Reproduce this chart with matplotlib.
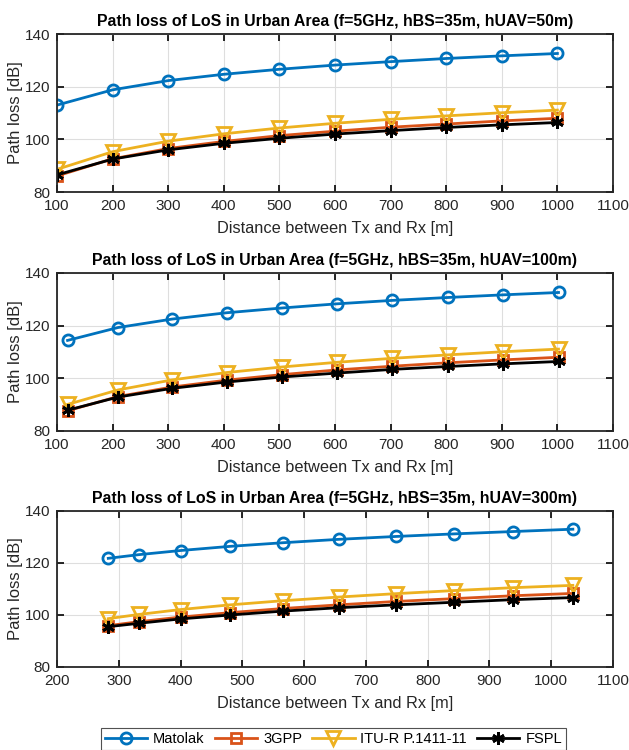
import matplotlib.pyplot as plt
from matplotlib.lines import Line2D

# distances on the x axis for the three UAV heights
dist50 = [100, 200, 300, 400, 500, 600, 700, 800, 900, 1000]
dist100 = [119, 210, 307, 405, 504, 604, 703, 803, 902, 1002]
dist300 = [283, 332, 400, 480, 566, 656, 748, 843, 938, 1035]

# hUAV = 50 m
matolak50 = [113.0, 118.8, 122.3, 124.7, 126.6, 128.2, 129.5, 130.7, 131.7, 132.6]
gpp50 = [86.1, 92.6, 96.5, 99.2, 101.4, 103.1, 104.6, 105.8, 107.0, 108.0]
itu50 = [88.6, 95.3, 99.3, 102.1, 104.3, 106.1, 107.6, 108.9, 110.1, 111.1]
fspl50 = [86.5, 92.5, 96.0, 98.5, 100.4, 102.0, 103.3, 104.5, 105.5, 106.4]

# hUAV = 100 m
matolak100 = [114.4, 119.3, 122.5, 124.9, 126.7, 128.3, 129.6, 130.7, 131.7, 132.6]
gpp100 = [87.7, 93.1, 96.7, 99.3, 101.4, 103.2, 104.6, 105.9, 107.0, 108.0]
itu100 = [90.1, 95.6, 99.4, 102.2, 104.3, 106.1, 107.6, 108.9, 110.1, 111.1]
fspl100 = [87.9, 92.9, 96.2, 98.6, 100.5, 102.0, 103.4, 104.5, 105.5, 106.4]

# hUAV = 300 m
matolak300 = [121.8, 123.2, 124.8, 126.4, 127.8, 129.1, 130.2, 131.2, 132.1, 133.0]
gpp300 = [95.9, 97.4, 99.2, 100.9, 102.5, 103.9, 105.2, 106.3, 107.4, 108.3]
itu300 = [98.6, 100.2, 102.1, 103.9, 105.5, 106.9, 108.2, 109.4, 110.5, 111.4]
fspl300 = [95.5, 96.8, 98.5, 100.0, 101.5, 102.8, 103.9, 104.9, 105.9, 106.7]

hUAV = ['50m', '100m', '300m']
names = ['Matolak', '3GPP', 'ITU-R P.1411-11', 'FSPL']
couleurs = ['#0072BD', '#D95319', '#EDB120', '#000000']
marqueurs = ['o', 's', 'v', (6, 2, 0)]
tailles = [8, 7, 10, 9]

donnees = [
    (dist50, [matolak50, gpp50, itu50, fspl50]),
    (dist100, [matolak100, gpp100, itu100, fspl100]),
    (dist300, [matolak300, gpp300, itu300, fspl300]),
]

plt.rcParams['font.family'] = ['Liberation Sans', 'DejaVu Sans']

fig = plt.figure(figsize=(6.29, 7.5), dpi=100)

positions = [
    [57/629, 1-192/750, 556/629, 158/750],
    [57/629, 1-431/750, 556/629, 158/750],
    [57/629, 1-667/750, 556/629, 156/750],
]
xlims = [(100, 1100), (100, 1100), (200, 1100)]

for k, (x, series) in enumerate(donnees):
    ax = fig.add_axes(positions[k])
    for i, y in enumerate(series):
        ax.plot(x, y, color=couleurs[i], marker=marqueurs[i], markersize=tailles[i],
                markerfacecolor='none', markeredgewidth=2, linewidth=2, label=names[i])
    ax.set_xlim(*xlims[k])
    ax.set_ylim(80, 140)
    ax.set_xticks(range(xlims[k][0], 1101, 100))
    ax.set_yticks([80, 100, 120, 140])
    ax.grid(True, color='#dedede', linewidth=0.8)
    ax.set_axisbelow(True)
    ax.tick_params(direction='in', length=5, width=1.2, top=True, right=True,
                   labelsize=11, labelcolor='#262626', pad=5)
    for s in ax.spines.values():
        s.set_linewidth(1.3)
        s.set_color('#262626')
    ax.set_title(f'Path loss of LoS in Urban Area (f=5GHz, hBS=35m, hUAV={hUAV[k]})',
                 fontsize=11.4, fontweight='bold', pad=6)
    ax.set_xlabel('Distance between Tx and Rx [m]', fontsize=11.8, color='#262626', labelpad=6)
    ax.set_ylabel('Path loss [dB]', fontsize=12, color='#262626', labelpad=1)

poignees = [Line2D([], [], color=couleurs[i], marker=marqueurs[i], markersize=tailles[i],
                   markerfacecolor='none', markeredgewidth=2, linewidth=2) for i in range(4)]
leg = fig.legend(poignees, names, loc='center', bbox_to_anchor=(333.5/629, 1-739/750),
                 ncol=4, fontsize=10.5, frameon=True, fancybox=False, edgecolor='#262626',
                 handlelength=2.9, columnspacing=0.7, handletextpad=0.4, borderpad=0.25)
leg.get_frame().set_linewidth(0.8)

plt.savefig('out.png', dpi=100)
